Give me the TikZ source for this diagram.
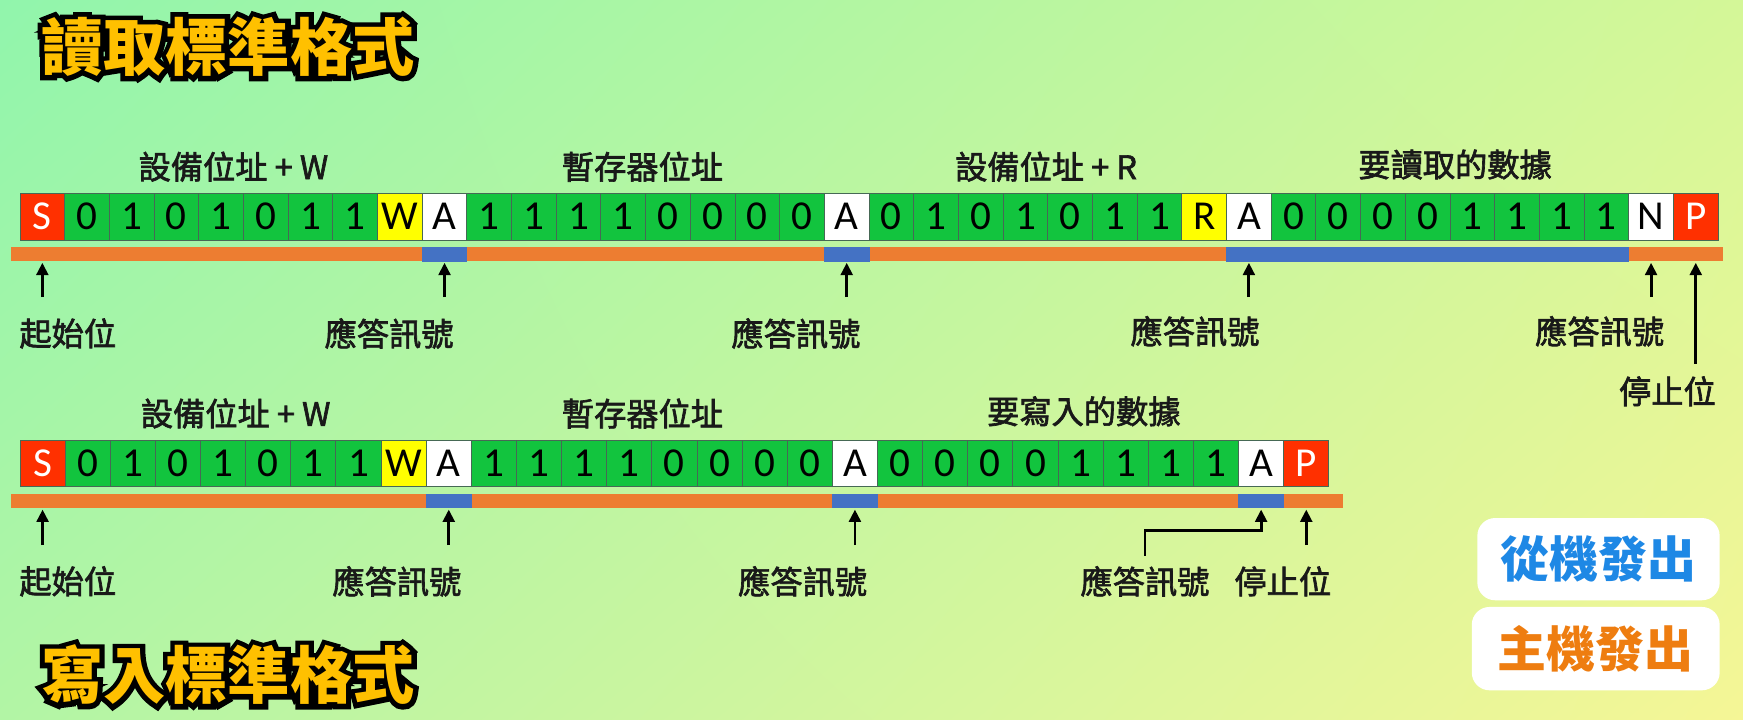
\documentclass[tikz,border=0pt]{standalone}
\usepackage{fontspec}
\setmainfont{Carlito}
\newfontfamily\cjk{Noto Sans CJK TC}[FakeBold=2]
\newfontfamily\cjkB{Noto Sans CJK TC}
\newfontfamily\cjkOut{Noto Sans CJK TC}[BoldFeatures={FakeBold=16}]
\usetikzlibrary{arrows.meta,calc,shadings}
\definecolor{cgreen}{RGB}{18,196,62}
\definecolor{cred}{RGB}{255,48,0}
\definecolor{cyel}{RGB}{255,255,0}
\definecolor{barO}{RGB}{237,125,49}
\definecolor{barB}{RGB}{68,114,196}
\definecolor{titleY}{RGB}{255,192,0}
\definecolor{legB}{RGB}{30,136,229}
\definecolor{legO}{RGB}{238,125,16}
\definecolor{cellborder}{RGB}{70,105,85}
\definecolor{txt}{RGB}{25,25,25}
\definecolor{bgUL}{RGB}{145,245,172}
\definecolor{bgUR}{RGB}{212,247,152}
\definecolor{bgLL}{RGB}{178,245,165}
\definecolor{bgLR}{RGB}{245,246,150}
\begin{document}
\begin{tikzpicture}[x=1pt,y=-1pt,
  cell/.style={draw=cellborder,line width=0.8pt,minimum height=42pt,inner sep=0pt,
    font=\fontsize{37}{37}\selectfont},
  cg/.style={fill=cgreen},
  cr/.style={fill=cred,text=white},
  cy/.style={fill=cyel},
  cw/.style={fill=white},
  lab/.style={font=\cjk\fontsize{29}{29}\selectfont,text=txt,inner sep=0pt},
  arr/.style={line width=2.6pt,draw=black,-{Triangle[length=11pt,width=10.5pt]}},
  titlefont/.style={font=\cjkB\bfseries\fontsize{56}{56}\selectfont,inner sep=0pt},
  titleout/.style={font=\cjkOut\bfseries\fontsize{56}{56}\selectfont,inner sep=0pt},
  legbox/.style={fill=white,rounded corners=16pt,inner sep=0pt,
    font=\cjkB\bfseries\fontsize{44}{44}\selectfont}]
% background
\shade[upper left=bgUL,upper right=bgUR,lower left=bgLL,lower right=bgLR]
  (0,0) rectangle (1568,647);
\useasboundingbox (0,0) rectangle (1568,647);
% titles
\node[titleout,text=black] (title1o) at (205,42) {讀取標準格式};
\node[titleout,text=black] (title2o) at (205,607) {寫入標準格式};
\node[titlefont,text=titleY] (title1) at (205,42) {讀取標準格式};
\node[titlefont,text=titleY] (title2) at (205,607) {寫入標準格式};
% ---------- row 1 ----------
\node[lab] (h1a) at (210,150) {設備位址 + W};
\node[lab] (h1b) at (578,150) {暫存器位址};
\node[lab] (h1c) at (941,150) {設備位址 + R};
\node[lab] (h1d) at (1309,148) {要讀取的數據};
\foreach \lbl/\sty [count=\i from 0] in {S/cr,0/cg,1/cg,0/cg,1/cg,0/cg,1/cg,1/cg,W/cy,A/cw,
  1/cg,1/cg,1/cg,1/cg,0/cg,0/cg,0/cg,0/cg,A/cw,
  0/cg,1/cg,0/cg,1/cg,0/cg,1/cg,1/cg,R/cy,A/cw,
  0/cg,0/cg,0/cg,0/cg,1/cg,1/cg,1/cg,1/cg,N/cw,P/cr}{
  \node[cell,\sty,minimum width=40.2pt] (a\i) at ({18+40.2*(\i+0.5)},195) {\lbl};
}
\fill[barO] (10,222) rectangle (1550,235);
\foreach \k in {9,18}{
  \fill[barB] ($(a\k.south west)+(0,6)$) rectangle ($(a\k.south east)+(0,19)$);
}
\fill[barB] ($(a27.south west)+(0,6)$) rectangle ($(a35.south east)+(0,19)$);
\foreach \k in {0,9,18,27,36,37}{
  \coordinate (ha\k) at ($(a\k.south)+(0,20)$);
}
\foreach \k in {0,9,18,27,36}{
  \coordinate (ta\k) at ($(a\k.south)+(0,51)$);
  \draw[arr] (ta\k) -- (ha\k);
}
\coordinate (ta37) at ($(a37.south)+(0,111)$);
\draw[arr] (ta37) -- (ha37);
\node[lab] (l1a) at (61,300) {起始位};
\node[lab] (l1b) at (350,300) {應答訊號};
\node[lab] (l1c) at (716,300) {應答訊號};
\node[lab] (l1d) at (1075,298) {應答訊號};
\node[lab] (l1e) at (1439,298) {應答訊號};
\node[lab] (l1f) at (1500,352) {停止位};
% ---------- row 2 ----------
\node[lab] (h2a) at (212,372) {設備位址 + W};
\node[lab] (h2b) at (578,372) {暫存器位址};
\node[lab] (h2c) at (975,370) {要寫入的數據};
\foreach \lbl/\sty [count=\i from 0] in {S/cr,0/cg,1/cg,0/cg,1/cg,0/cg,1/cg,1/cg,W/cy,A/cw,
  1/cg,1/cg,1/cg,1/cg,0/cg,0/cg,0/cg,0/cg,A/cw,
  0/cg,0/cg,0/cg,0/cg,1/cg,1/cg,1/cg,1/cg,A/cw,P/cr}{
  \node[cell,\sty,minimum width=40.6pt] (b\i) at ({18+40.6*(\i+0.5)},417) {\lbl};
}
\fill[barO] (10,444) rectangle (1208,457);
\foreach \k in {9,18,27}{
  \fill[barB] ($(b\k.south west)+(0,6)$) rectangle ($(b\k.south east)+(0,19)$);
}
\foreach \k in {0,9,18,27,28}{
  \coordinate (hb\k) at ($(b\k.south)+(0,20)$);
}
\foreach \k in {0,9,18,28}{
  \coordinate (tb\k) at ($(b\k.south)+(0,52)$);
  \draw[arr] (tb\k) -- (hb\k);
}
\coordinate (e0) at (1030,500);
\coordinate (e1) at ($(b27.south)+(0,39)$);
\draw[arr] (e0) |- (e1) -- (hb27);
\node[lab] (l2a) at (61,523) {起始位};
\node[lab] (l2b) at (357,523) {應答訊號};
\node[lab] (l2c) at (722,523) {應答訊號};
\node[lab] (l2d) at (1030,523) {應答訊號};
\node[lab] (l2e) at (1154,523) {停止位};
% ---------- legend ----------
\node[legbox,minimum width=218pt,minimum height=74pt,text=legB] (leg1) at (1438,503) {從機發出};
\node[legbox,minimum width=223pt,minimum height=75pt,text=legO] (leg2) at (1435.5,583.5) {主機發出};
\end{tikzpicture}
\end{document}
